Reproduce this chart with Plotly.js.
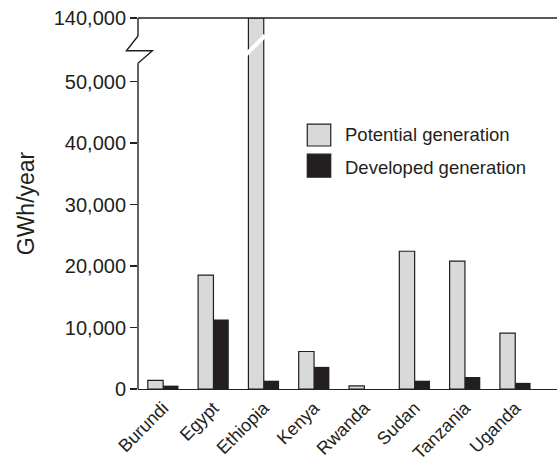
<!DOCTYPE html>
<html>
<head>
<meta charset="utf-8">
<script src="https://cdn.plot.ly/plotly-3.0.1.min.js"></script>
<style>html,body{margin:0;padding:0;background:#fff;}#chart{width:557px;height:462px;}</style>
</head>
<body>
<div id="chart"></div>
<script>
// ---- data ----
var countries = ['Burundi', 'Egypt', 'Ethiopia', 'Kenya', 'Rwanda', 'Sudan', 'Tanzania', 'Uganda'];
var potentialGeneration = [1400, 18500, 140000, 6100, 500, 22400, 20800, 9100];
var developedGeneration = [550, 11300, 1350, 3600, 0, 1350, 1950, 1000];
var tickValues = [0, 10000, 20000, 30000, 40000, 50000, 140000];
var tickLabels = ['0', '10,000', '20,000', '30,000', '40,000', '50,000', '140,000'];

// ---- broken-axis mapping: 0..50,000 linear, 50,000..140,000 compressed ----
var BREAK_LO = 50000, TOP_VAL = 140000, TOP_DISP = 60325;
function disp(v) {
  return v <= BREAK_LO ? v : BREAK_LO + (v - BREAK_LO) * (TOP_DISP - BREAK_LO) / (TOP_VAL - BREAK_LO);
}
// pixel helpers for decorations (plot area: top 18, bottom 389)
var PT = 18, PB = 389;
function pyToDisp(py) { return (PB - py) / (PB - PT) * TOP_DISP; }

var ink = '#231f20';
var lightGray = '#d8d9db';

var traces = [
  {
    type: 'bar', name: 'Potential generation', x: countries, y: potentialGeneration.map(disp),
    customdata: potentialGeneration, hovertemplate: '%{x}: %{customdata}<extra>Potential</extra>',
    marker: {color: lightGray, line: {color: ink, width: 1.2}}
  },
  {
    type: 'bar', name: 'Developed generation', x: countries, y: developedGeneration.map(disp),
    customdata: developedGeneration, hovertemplate: '%{x}: %{customdata}<extra>Developed</extra>',
    marker: {color: ink, line: {color: ink, width: 0}}
  }
];

var font = 'Liberation Sans, Arial, Helvetica, sans-serif';
var lw = 1.4;
var shapes = [
  // top line at 140,000
  {type: 'line', xref: 'paper', yref: 'paper', x0: 0, x1: 1, y0: 1, y1: 1, line: {color: ink, width: lw}},
  // y axis, lower part
  {type: 'line', xref: 'paper', yref: 'y', x0: 0, x1: 0, y0: 0, y1: pyToDisp(63.3), line: {color: ink, width: lw}},
  // y axis, upper part
  {type: 'line', xref: 'paper', yref: 'y', x0: 0, x1: 0, y0: pyToDisp(36), y1: TOP_DISP, line: {color: ink, width: lw}},
  // zigzag break
  {type: 'path', xref: 'paper', yref: 'y', xsizemode: 'pixel', xanchor: 0,
   path: 'M0,' + pyToDisp(36) + ' L-11.6,' + pyToDisp(50.7) + ' L14.4,' + pyToDisp(50.7) + ' L0,' + pyToDisp(63.3),
   line: {color: ink, width: lw}},
  // white slash on the Ethiopia bar
  {type: 'line', xref: 'x', yref: 'y', x0: 1.64, x1: 2.03, y0: pyToDisp(55), y1: pyToDisp(35.5),
   line: {color: '#ffffff', width: 4}, layer: 'above'},
  // legend swatches
  {type: 'rect', xref: 'paper', yref: 'paper', x0: 0.404, x1: 0.460, y0: 0.655, y1: 0.714,
   fillcolor: lightGray, line: {color: ink, width: 1.2}},
  {type: 'rect', xref: 'paper', yref: 'paper', x0: 0.404, x1: 0.460, y0: 0.571, y1: 0.633,
   fillcolor: ink, line: {color: ink, width: 1.2}}
];

var annotations = [
  {xref: 'paper', yref: 'paper', x: 0.489, y: 0.685, xanchor: 'left', yanchor: 'middle', showarrow: false,
   text: 'Potential generation', font: {family: font, size: 18.5, color: ink}},
  {xref: 'paper', yref: 'paper', x: 0.489, y: 0.598, xanchor: 'left', yanchor: 'middle', showarrow: false,
   text: 'Developed generation', font: {family: font, size: 18.5, color: ink}}
];

var layout = {
  width: 557, height: 462,
  margin: {l: 138, r: 0, t: 18, b: 73, pad: 0},
  paper_bgcolor: '#ffffff', plot_bgcolor: '#ffffff',
  showlegend: false,
  barmode: 'group', bargap: 0.39, bargroupgap: 0,
  font: {family: font, color: ink},
  xaxis: {
    type: 'category', range: [-0.5, 7.83], showgrid: false, zeroline: false,
    showline: true, linecolor: ink, linewidth: lw, ticks: '',
    tickangle: -45, tickfont: {family: font, size: 18, color: ink}, fixedrange: true
  },
  yaxis: {
    range: [0, TOP_DISP], showgrid: false, zeroline: false, showline: false,
    tickmode: 'array', tickvals: tickValues.map(disp), ticktext: tickLabels,
    ticks: 'outside', ticklen: 7, tickwidth: 1.5, tickcolor: ink,
    tickfont: {family: font, size: 20, color: ink},
    title: {text: 'GWh/year', font: {family: font, size: 23, color: ink}, standoff: 12},
    fixedrange: true
  },
  shapes: shapes,
  annotations: annotations
};

Plotly.newPlot('chart', traces, layout, {displayModeBar: false, staticPlot: true});
</script>
</body>
</html>
